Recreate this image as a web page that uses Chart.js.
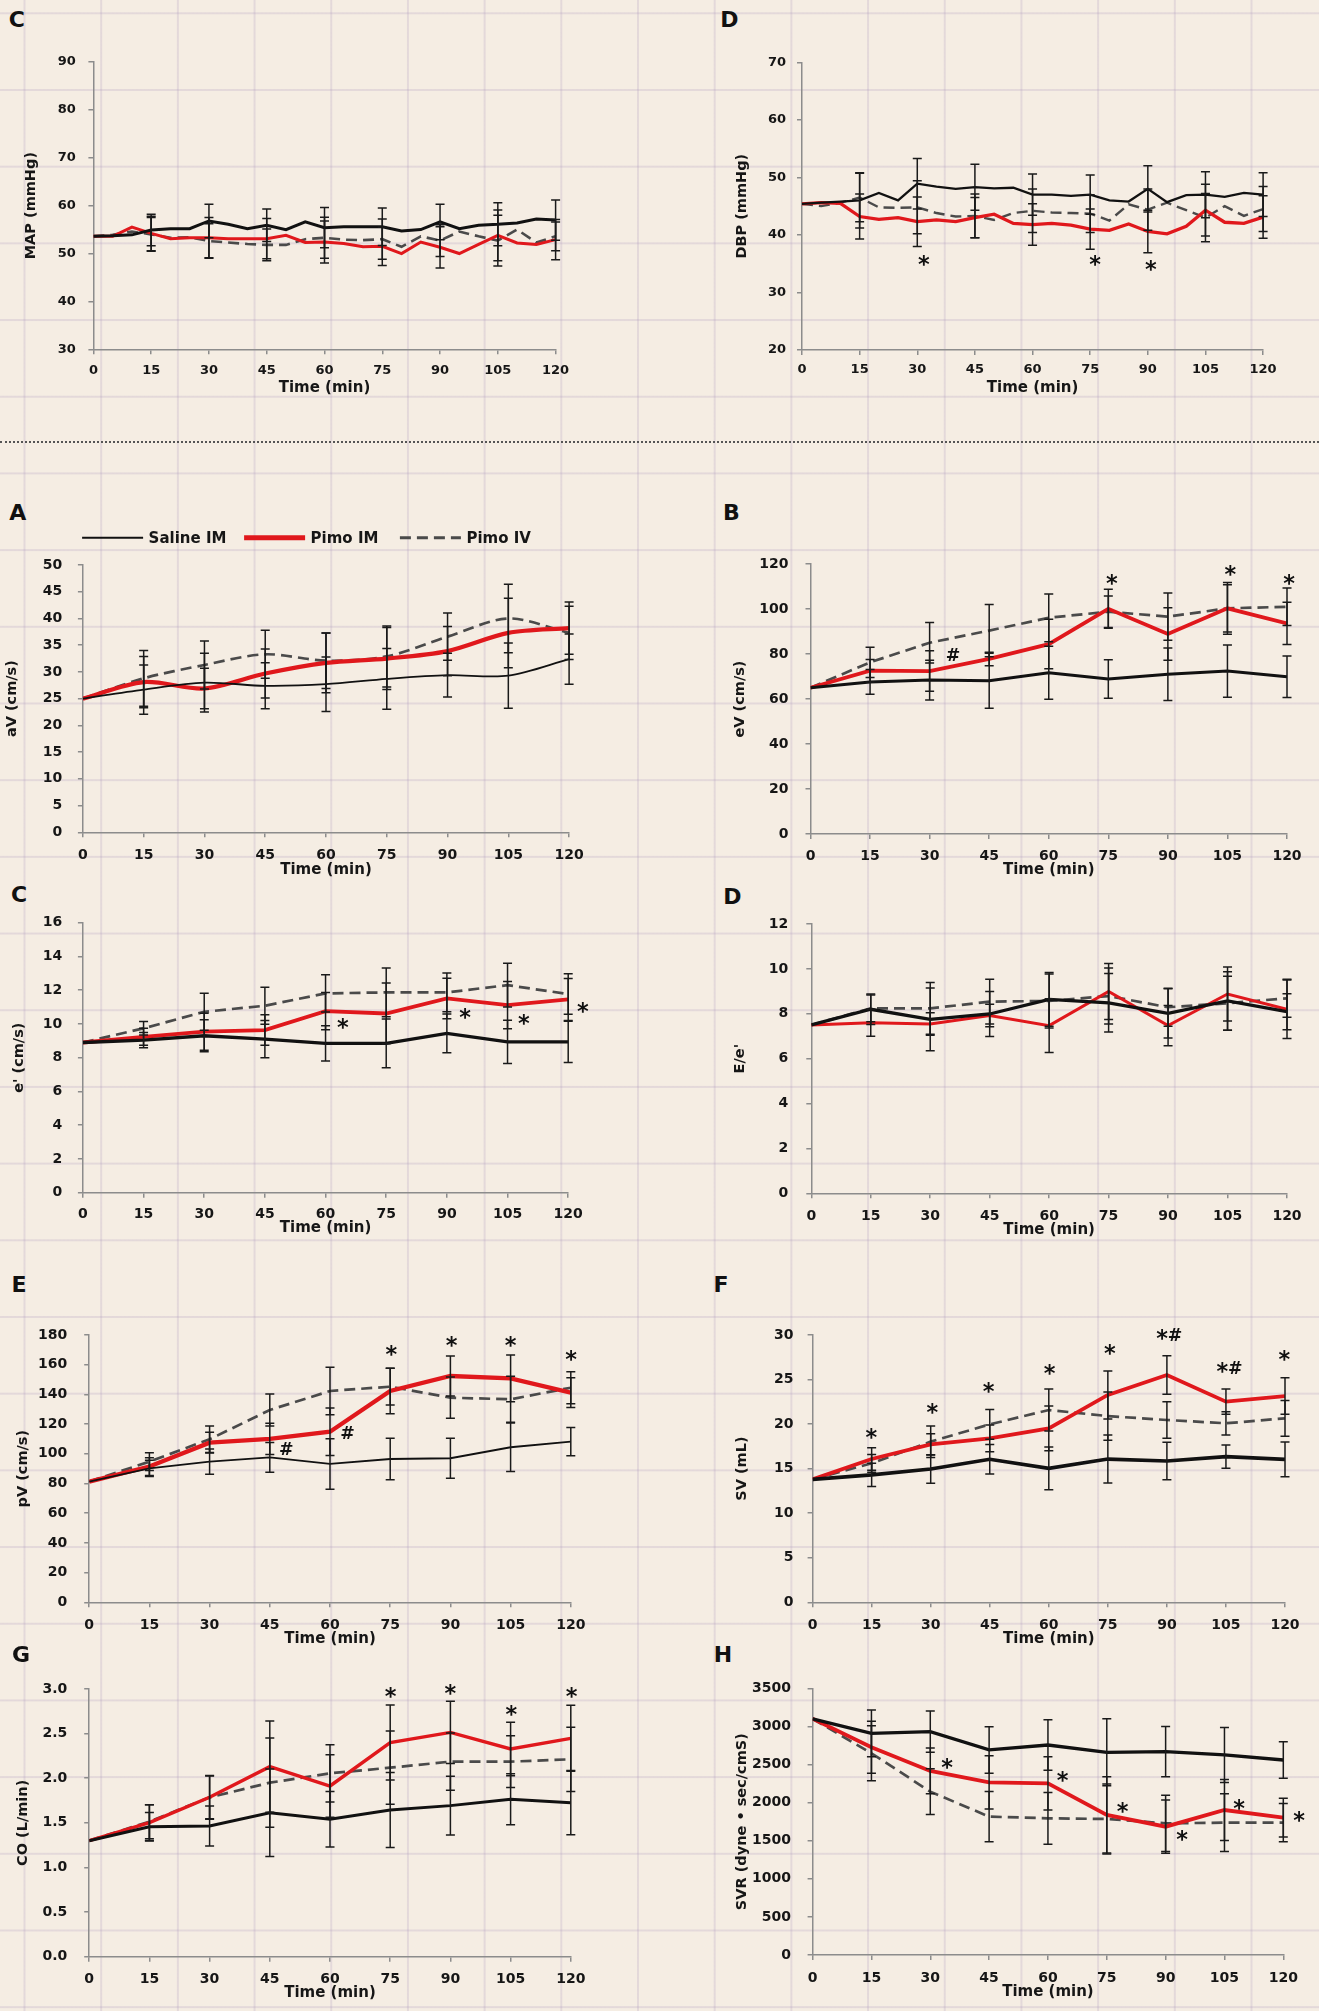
<!DOCTYPE html>
<html>
<head>
<meta charset="utf-8">
<title>Saline IM vs Pimo IM vs Pimo IV - time course</title>
<script src="https://cdn.jsdelivr.net/npm/chart.js@4.4.1/dist/chart.umd.min.js"></script>
<style>
  html, body { margin:0; padding:0; }
  body {
    width:1319px; height:2011px; position:relative; overflow:hidden;
    background-color:#f5ede3;
    background-image:
      linear-gradient(to right, rgba(175,155,190,0.25) 0px, rgba(175,155,190,0.25) 1.6px, transparent 1.6px),
      linear-gradient(to bottom, rgba(175,155,190,0.25) 0px, rgba(175,155,190,0.25) 1.6px, transparent 1.6px);
    background-size: 76.7px 76.7px;
    background-position: 23.5px 12.3px;
  }
  canvas { position:absolute; }
  .letter { position:absolute; font: bold 22px "DejaVu Sans", sans-serif; color:#111; line-height:1; transform:translate(-50%,-50%); }
  .sep { position:absolute; left:0; top:440.7px; width:1319px; height:0; border-top:2px dotted #555; }
</style>
</head>
<body>
<div class="sep"></div>
<script>
// ---------------- DATA ----------------
const T5  = [0,5,10,15,20,25,30,35,40,45,50,55,60,65,70,75,80,85,90,95,100,105,110,115,120];
const T15 = [0,15,30,45,60,75,90,105,120];
const X_TICKS = [0,15,30,45,60,75,90,105,120];
const SERIES_NAMES = ['Saline IM','Pimo IM','Pimo IV'];

// MAP (mmHg), 5-min samples
const mapSaline = [53.6,53.7,53.9,54.9,55.2,55.2,56.8,56.1,55.2,55.9,55.0,56.6,55.4,55.6,55.6,55.6,54.7,55.0,56.6,55.2,55.9,56.1,56.4,57.2,57.0];
const mapPimoIM = [53.6,53.6,55.5,54.2,53.1,53.3,53.3,53.1,53.1,53.1,53.8,52.3,52.4,52.1,51.4,51.5,50.0,52.4,51.3,50.0,51.9,53.8,52.2,51.9,52.9];
const mapPimoIV = [53.6,53.9,54.6,54.0,53.3,53.4,52.6,52.3,52.0,51.8,51.8,53.0,53.3,52.9,52.8,53.0,51.4,53.6,52.7,54.6,53.6,52.7,55.0,52.3,53.6];
const mapSalineErr = [0,3.3,3.5,3.4,4.2,3.9,3.7,4.5,4.2];
const mapPimoIMErr = [0,3.6,4.2,4.2,4.4,4.0,4.3,5.3,4.2];
const mapPimoIVErr = [0,3.5,3.6,3.3,4.3,4.2,3.3,5.3,3.0];

// DBP (mmHg), 5-min samples
const dbpSaline = [45.4,45.6,45.8,46.0,47.3,46.0,48.9,48.4,48.0,48.3,48.1,48.2,47.0,47.0,46.8,47.0,46.0,45.8,48.0,45.7,46.9,47.0,46.6,47.3,47.0];
const dbpPimoIM = [45.4,45.6,45.5,43.2,42.7,43.0,42.3,42.6,42.3,43.0,43.6,42.0,41.8,42.0,41.7,41.0,40.8,41.9,40.6,40.2,41.5,44.3,42.2,42.0,43.1];
const dbpPimoIV = [45.4,45.0,45.6,46.5,44.8,44.7,44.8,43.8,43.2,43.3,42.6,43.8,44.2,43.9,43.8,43.7,42.5,45.3,44.4,45.6,44.3,43.0,45.0,43.3,44.5];
const dbpSalineErr = [0,4.8,4.4,4.0,3.6,3.4,4.0,4.0,3.8];
const dbpPimoIMErr = [0,3.9,4.3,3.5,3.6,3.5,3.7,4.5,3.7];
const dbpPimoIVErr = [0,4.2,4.6,3.8,3.8,3.3,3.6,4.2,3.9];
const dbpMarks = [{x:31.7,y:35.6,t:'*'},{x:76.3,y:35.6,t:'*'},{x:90.8,y:34.7,t:'*'}];

// aV (cm/s)
const aSaline = [25,26.7,28.0,27.4,27.7,28.7,29.4,29.3,32.4];
const aPimoIM = [25,28.1,26.9,29.7,31.7,32.5,33.9,37.3,38.2];
const aPimoIV = [25,28.8,31.3,33.3,32.1,32.9,36.6,40.0,37.3];
const aSalineErr = [0,4.6,5.5,4.3,5.1,5.7,4.1,6.1,4.7];
const aPimoIMErr = [0,4.8,3.8,4.6,5.6,5.8,4.6,6.5,4.9];
const aPimoIVErr = [0,5.2,4.5,4.5,5.2,5.7,4.4,6.4,5.0];

// eV (cm/s)
const bSaline = [65,67.6,68.4,68.1,71.7,68.9,71.0,72.4,69.9];
const bPimoIM = [65,72.6,72.4,77.8,84.4,100.1,88.9,100.3,93.6];
const bPimoIV = [65,76.3,85.0,90.4,96.1,98.8,96.6,100.3,101.0];
const bSalineErr = [0,5.5,8.8,12.2,11.8,8.6,11.7,11.6,9.2];
const bPimoIMErr = [0,5.0,9.0,3.0,11.0,8.7,11.7,10.5,9.4];
const bPimoIVErr = [0,6.7,9.0,11.6,10.6,7.0,10.5,11.5,8.3];
const bMarks = [{x:75.9,y:112.9,t:'*'},{x:105.7,y:117.3,t:'*'},{x:120.5,y:113.2,t:'*'},{x:35.9,y:79.6,t:'#'}];

// e' (cm/s)
const cSaline = [8.9,9.04,9.3,9.1,8.85,8.85,9.44,8.94,8.94];
const cPimoIM = [8.9,9.24,9.54,9.64,10.76,10.62,11.51,11.12,11.45];
const cPimoIV = [8.9,9.74,10.72,11.08,11.81,11.87,11.87,12.3,11.77];
const cSalineErr = [0,0.45,0.95,1.1,1.05,1.45,1.15,1.28,1.22];
const cPimoIMErr = [0,0.5,1.1,0.9,1.1,1.8,1.2,1.4,1.25];
const cPimoIVErr = [0,0.4,1.1,1.1,1.1,1.45,1.15,1.3,1.2];
const cMarks = [{x:64.3,y:10.03,t:'*'},{x:94.5,y:10.62,t:'*'},{x:109,y:10.27,t:'*'},{x:123.6,y:11.0,t:'*'}];

// E/e'
const dSaline = [7.5,8.2,7.75,7.99,8.64,8.49,8.02,8.57,8.09];
const dPimoIM = [7.5,7.6,7.54,7.92,7.47,8.99,7.47,8.88,8.2];
const dPimoIV = [7.5,8.24,8.24,8.54,8.57,8.79,8.29,8.47,8.69];
const dSalineErr = [0,0.68,1.4,1.0,1.2,1.3,1.1,1.3,0.8];
const dPimoIMErr = [0,0.6,0.5,0.5,1.2,1.25,0.9,1.2,1.3];
const dPimoIVErr = [0,0.6,1.15,1.0,1.2,1.25,0.85,1.2,0.85];

// pV (cm/s)
const eSaline = [81.3,90.2,94.7,97.6,93.2,96.5,97.0,104.4,108.2];
const ePimoIM = [81.3,91.4,107.5,110.0,114.9,142.3,152.4,150.8,141.2];
const ePimoIV = [81.3,94.7,109.8,129.5,142.3,145.2,137.8,136.7,144.5];
const eSalineErr = [0,5.5,8.5,10,17,14,13.5,16.4,9.5];
const ePimoIMErr = [0,6,7,10.5,16,15.3,13.5,15.7,10];
const ePimoIVErr = [0,6,8.9,10.8,16,12.4,13.9,15.5,10.8];
const eMarks = [{x:75.3,y:169.5,t:'*'},{x:90.3,y:175.5,t:'*'},{x:105,y:175.5,t:'*'},{x:120.1,y:166.5,t:'*'},{x:49.1,y:103.7,t:'#'},{x:64.4,y:114.5,t:'#'}];

// SV (mL)
const fSaline = [13.8,14.3,14.96,16.05,15.04,16.08,15.86,16.35,16.05];
const fPimoIM = [13.8,16.08,17.73,18.4,19.52,23.27,25.51,22.52,23.15];
const fPimoIV = [13.8,15.6,18.03,19.97,21.58,20.9,20.46,20.09,20.65];
const fSalineErr = [0,1.3,1.6,1.65,2.4,2.7,2.1,1.3,1.95];
const fPimoIMErr = [0,1.27,1.2,1.5,2.5,2.7,2.15,1.42,2.05];
const fPimoIVErr = [0,1.0,1.77,1.68,2.36,2.7,2.06,1.3,2.0];
const fMarks = [{x:14.9,y:18.96,t:'*'},{x:30.4,y:21.77,t:'*'},{x:44.7,y:24.1,t:'*'},{x:60.2,y:26.15,t:'*'},{x:75.5,y:28.4,t:'*'},{x:90.6,y:30.1,t:'*#'},{x:105.9,y:26.4,t:'*#'},{x:119.8,y:27.7,t:'*'}];

// CO (L/min)
const gSaline = [1.3,1.457,1.465,1.614,1.54,1.644,1.693,1.764,1.726];
const gPimoIM = [1.3,1.502,1.786,2.13,1.913,2.40,2.514,2.328,2.447];
const gPimoIV = [1.3,1.513,1.786,1.95,2.055,2.118,2.186,2.186,2.212];
const gSalineErr = [0,0.16,0.225,0.49,0.31,0.42,0.33,0.285,0.36];
const gPimoIMErr = [0,0.2,0.24,0.51,0.35,0.42,0.35,0.3,0.37];
const gPimoIVErr = [0,0.19,0.245,0.5,0.32,0.41,0.32,0.29,0.36];
const gMarks = [{x:75.1,y:2.96,t:'*'},{x:90,y:2.99,t:'*'},{x:105.2,y:2.757,t:'*'},{x:120.2,y:2.96,t:'*'}];

// SVR
const hSaline = [3100,2909,2931,2691,2756,2660,2669,2625,2559];
const hPimoIM = [3100,2726,2415,2266,2253,1838,1684,1903,1803];
const hPimoIV = [3100,2647,2144,1816,1794,1785,1728,1737,1737];
const hSalineErr = [0,307,270,306,330,440,330,360,240];
const hPimoIMErr = [0,340,300,350,350,500,350,400,255];
const hPimoIVErr = [0,360,300,330,340,460,370,380,250];
const hMarks = [{x:34.3,y:2516,t:'*'},{x:63.75,y:2341,t:'*'},{x:79,y:1938,t:'*'},{x:94.2,y:1566,t:'*'},{x:108.75,y:1977,t:'*'},{x:124,y:1816,t:'*'}];

// ---------------- STYLE / LAYOUT ----------------
const FONT = '"DejaVu Sans", sans-serif';
const AXIS_COLOR = '#8c8c8c';
const TEXT_COLOR = '#161616';
const C_SAL = '#111111', C_IM = '#e0181c', C_IV = '#4a4a4a';
const DASH = [11, 6];
const Y_TITLE_SIZE = 14.5;

const PANELS = [
  {letter:'C', lx:16.8, ly:20, x0:93.4, x1:555.6, y0:62, y1:349.3, yTitleX:31.6, yGap:17.6, xTickOff:21, xTitleOff:39, tick:13,
   ymin:30, ymax:90, step:10, ytitle:'MAP (mmHg)', times:T5, s:[mapSaline,mapPimoIM,mapPimoIV], e:[mapSalineErr,mapPimoIMErr,mapPimoIVErr], w:[3.0,3.0,2.6], marks:[]},
  {letter:'D', lx:729.3, ly:20, x0:802, x1:1263.1, y0:62.3, y1:350, yTitleX:742, yGap:16, xTickOff:20, xTitleOff:38, tick:13,
   ymin:20, ymax:70, step:10, ytitle:'DBP (mmHg)', times:T5, s:[dbpSaline,dbpPimoIM,dbpPimoIV], e:[dbpSalineErr,dbpPimoIMErr,dbpPimoIVErr], w:[2.3,3.3,2.4], marks:dbpMarks},
  {letter:'A', lx:17.8, ly:513, x0:82.9, x1:569.1, y0:565, y1:832.3, yTitleX:12.6, yGap:20.6, xTickOff:23, xTitleOff:38, tick:14,
   ymin:0, ymax:50, step:5, ytitle:'aV (cm/s)', times:T15, s:[aSaline,aPimoIM,aPimoIV], e:[aSalineErr,aPimoIMErr,aPimoIVErr], w:[1.8,4.2,2.7], marks:[], tension:0.3, legend:true},
  {letter:'B', lx:731.4, ly:513, x0:810.5, x1:1287, y0:564, y1:834, yTitleX:739.9, yGap:22, xTickOff:22, xTitleOff:36, tick:14,
   ymin:0, ymax:120, step:20, ytitle:'eV (cm/s)', times:T15, s:[bSaline,bPimoIM,bPimoIV], e:[bSalineErr,bPimoIMErr,bPimoIVErr], w:[3.0,3.8,2.7], marks:bMarks},
  {letter:'C', lx:19, ly:895, x0:82.9, x1:568.2, y0:922.7, y1:1192.7, yTitleX:19, yGap:20.6, xTickOff:22, xTitleOff:35.5, tick:14,
   ymin:0, ymax:16, step:2, ytitle:"e' (cm/s)", times:T15, s:[cSaline,cPimoIM,cPimoIV], e:[cSalineErr,cPimoIMErr,cPimoIVErr], w:[3.3,3.8,2.7], marks:cMarks},
  {letter:'D', lx:732.3, ly:897, x0:811.3, x1:1287, y0:924, y1:1193.3, yTitleX:740.7, yGap:23, xTickOff:23, xTitleOff:37, tick:14,
   ymin:0, ymax:12, step:2, ytitle:"E/e'", times:T15, s:[dSaline,dPimoIM,dPimoIV], e:[dSalineErr,dPimoIMErr,dPimoIVErr], w:[3.3,3.0,2.7], marks:[]},
  {letter:'E', lx:19, ly:1285, x0:89.2, x1:570.8, y0:1335, y1:1602.3, yTitleX:23.2, yGap:22, xTickOff:23, xTitleOff:37, tick:14,
   ymin:0, ymax:180, step:20, ytitle:'pV (cm/s)', times:T15, s:[eSaline,ePimoIM,ePimoIV], e:[eSalineErr,ePimoIMErr,ePimoIVErr], w:[1.8,4.3,2.7], marks:eMarks},
  {letter:'F', lx:721, ly:1285, x0:812.6, x1:1285, y0:1335, y1:1602.3, yTitleX:742, yGap:19, xTickOff:23, xTitleOff:37, tick:14,
   ymin:0, ymax:30, step:5, ytitle:'SV (mL)', times:T15, s:[fSaline,fPimoIM,fPimoIV], e:[fSalineErr,fPimoIMErr,fPimoIVErr], w:[3.7,3.8,2.7], marks:fMarks},
  {letter:'G', lx:21, ly:1655, x0:89.2, x1:570.8, y0:1689, y1:1956.7, yTitleX:23.2, yGap:22, xTickOff:22.5, xTitleOff:36, tick:14,
   ymin:0, ymax:3, step:0.5, dec:1, ytitle:'CO (L/min)', times:T15, s:[gSaline,gPimoIM,gPimoIV], e:[gSalineErr,gPimoIMErr,gPimoIVErr], w:[3.0,3.4,2.7], marks:gMarks},
  {letter:'H', lx:723, ly:1655, x0:812.6, x1:1283.3, y0:1688.3, y1:1955, yTitleX:742, yGap:21.6, xTickOff:23, xTitleOff:37, tick:14,
   ymin:0, ymax:3500, step:500, ytitle:'SVR (dyne \u2022 sec/cmS)', times:T15, s:[hSaline,hPimoIM,hPimoIV], e:[hSalineErr,hPimoIMErr,hPimoIVErr], w:[3.3,3.8,2.7], marks:hMarks}
];

// ---------------- PLUGINS ----------------
const fontCache = {};
function glyphFont(ch, targetH) {
  const key = ch + '|' + targetH;
  if (fontCache[key]) return fontCache[key];
  const c = document.createElement('canvas').getContext('2d');
  c.font = 'bold 100px ' + FONT;
  const m = c.measureText(ch);
  const h = (m.actualBoundingBoxAscent + m.actualBoundingBoxDescent) || 40;
  const size = Math.max(8, Math.min(40, 100 * targetH / h));
  fontCache[key] = 'bold ' + size.toFixed(1) + 'px ' + FONT;
  return fontCache[key];
}

const errorBarPlugin = {
  id: 'errbars',
  afterDatasetsDraw(chart) {
    const ctx = chart.ctx, xs = chart.scales.x, ys = chart.scales.y;
    ctx.save();
    ctx.strokeStyle = '#1a1a1a';
    ctx.lineWidth = 1.5;
    ctx.setLineDash([]);
    chart.data.datasets.forEach(ds => {
      if (!ds.errors) return;
      ds.errTimes.forEach((t, i) => {
        const err = ds.errors[i];
        if (!err) return;
        const pt = ds.data.find(d => d.x === t);
        if (!pt) return;
        const px = xs.getPixelForValue(t);
        const top = ys.getPixelForValue(pt.y + err);
        const bot = ys.getPixelForValue(pt.y - err);
        const cap = 4.5;
        ctx.beginPath();
        ctx.moveTo(px, top); ctx.lineTo(px, bot);
        ctx.moveTo(px - cap, top); ctx.lineTo(px + cap, top);
        ctx.moveTo(px - cap, bot); ctx.lineTo(px + cap, bot);
        ctx.stroke();
      });
    });
    ctx.restore();
  }
};

const marksPlugin = {
  id: 'marks',
  afterDraw(chart, args, opts) {
    const items = opts && opts.items;
    if (!items || !items.length) return;
    const ctx = chart.ctx, xs = chart.scales.x, ys = chart.scales.y;
    ctx.save();
    ctx.fillStyle = '#111';
    ctx.textAlign = 'left';
    ctx.textBaseline = 'alphabetic';
    items.forEach(mk => {
      const cx = xs.getPixelForValue(mk.x), cy = ys.getPixelForValue(mk.y);
      const parts = [...mk.t].map(ch => ({ch, font: glyphFont(ch, ch === '*' ? 10.5 : 12.5)}));
      let total = 0;
      parts.forEach(p => { ctx.font = p.font; p.m = ctx.measureText(p.ch); total += p.m.width; });
      let x = cx - total / 2;
      parts.forEach(p => {
        ctx.font = p.font;
        const base = cy + (p.m.actualBoundingBoxAscent - p.m.actualBoundingBoxDescent) / 2;
        ctx.fillText(p.ch, x, base);
        x += p.m.width;
      });
    });
    ctx.restore();
  }
};

const lineLegendPlugin = {
  id: 'lineLegend',
  afterDraw(chart, args, opts) {
    if (!opts || !opts.show) return;
    const ctx = chart.ctx, ca = chart.chartArea;
    ctx.save();
    const y = ca.top + opts.dy;
    opts.items.forEach((it, i) => {
      const ds = chart.data.datasets[i];
      const x = ca.left + it.dx;
      ctx.beginPath();
      ctx.strokeStyle = ds.borderColor;
      ctx.lineWidth = it.lw;
      ctx.setLineDash(ds.borderDash || []);
      ctx.moveTo(x, y); ctx.lineTo(x + opts.len, y);
      ctx.stroke();
      ctx.setLineDash([]);
      ctx.fillStyle = TEXT_COLOR;
      ctx.font = 'bold 15px ' + FONT;
      ctx.textBaseline = 'middle';
      ctx.textAlign = 'left';
      ctx.fillText(ds.label, x + opts.len + opts.gap, y + 1);
    });
    ctx.restore();
  }
};

Chart.register(errorBarPlugin, marksPlugin, lineLegendPlugin);

// ---------------- BUILD ----------------
function pts(times, vals) { return times.map((t, i) => ({x: t, y: vals[i]})); }

PANELS.forEach(p => {
  const lhY = Y_TITLE_SIZE * 1.2, lhX = 15 * 1.2, lhT = p.tick * 1.2;
  const L = Math.floor(p.yTitleX - lhY / 2);
  const T = Math.floor(p.y0 - 44);
  const W = Math.round(p.x1 + 64 - L);
  const H = Math.round(p.y1 + p.xTitleOff + lhX / 2 - T);
  const yAxisW = p.x0 - L;
  const xAxisH = H - (p.y1 - T);
  const yTitlePad = Math.max(0, p.yTitleX - L - lhY / 2);

  const lab = document.createElement('div');
  lab.className = 'letter';
  lab.textContent = p.letter;
  lab.style.left = p.lx + 'px';
  lab.style.top = p.ly + 'px';
  document.body.appendChild(lab);

  const cv = document.createElement('canvas');
  cv.width = W; cv.height = H;
  cv.style.left = L + 'px'; cv.style.top = T + 'px';
  cv.style.width = W + 'px'; cv.style.height = H + 'px';
  document.body.appendChild(cv);

  const colors = [C_SAL, C_IM, C_IV];
  const datasets = p.s.map((vals, k) => ({
    label: SERIES_NAMES[k],
    data: pts(p.times, vals),
    borderColor: colors[k],
    backgroundColor: colors[k],
    borderWidth: p.w[k],
    borderDash: k === 2 ? DASH : [],
    pointRadius: 0,
    fill: false,
    tension: p.tension || 0,
    errors: p.e[k],
    errTimes: T15
  }));

  new Chart(cv, {
    type: 'line',
    data: { datasets },
    options: {
      responsive: false,
      animation: false,
      events: [],
      devicePixelRatio: 1,
      layout: { padding: { left: 0, top: p.y0 - T, right: W - (p.x1 - L), bottom: 0 } },
      plugins: {
        legend: { display: false },
        tooltip: { enabled: false },
        marks: { items: p.marks },
        lineLegend: p.legend ? {
          show: true, dy: -27.3, len: 61, gap: 5.5,
          items: [ {dx: -0.8, lw: 2}, {dx: 161.2, lw: 5}, {dx: 317, lw: 3} ]
        } : { show: false }
      },
      scales: {
        x: {
          type: 'linear', min: 0, max: 120,
          afterBuildTicks: s => { s.ticks = X_TICKS.map(v => ({value: v})); },
          afterFit: s => { s.height = xAxisH; },
          ticks: {
            color: TEXT_COLOR, maxRotation: 0, autoSkip: false,
            padding: p.xTickOff - 5 - lhT / 2,
            font: { family: FONT, size: p.tick, weight: 'bold' }
          },
          grid: { drawOnChartArea: false, drawTicks: true, tickLength: 5, color: AXIS_COLOR, lineWidth: 1.5 },
          border: { display: true, color: AXIS_COLOR, width: 1.5 },
          title: { display: true, text: 'Time (min)', color: TEXT_COLOR, padding: 0,
                   font: { family: FONT, size: 15, weight: 'bold' } }
        },
        y: {
          type: 'linear', min: p.ymin, max: p.ymax,
          afterFit: s => { s.width = yAxisW; },
          ticks: {
            stepSize: p.step, color: TEXT_COLOR, padding: p.yGap - 5,
            font: { family: FONT, size: p.tick, weight: 'bold' },
            callback: v => p.dec ? Number(v).toFixed(p.dec) : String(Math.round(v))
          },
          grid: { drawOnChartArea: false, drawTicks: true, tickLength: 5, color: AXIS_COLOR, lineWidth: 1.5 },
          border: { display: true, color: AXIS_COLOR, width: 1.5 },
          title: { display: true, text: p.ytitle, color: TEXT_COLOR, padding: {top: yTitlePad, bottom: 0},
                   font: { family: FONT, size: Y_TITLE_SIZE, weight: 'bold' } }
        }
      }
    }
  });
});
</script>
</body>
</html>
